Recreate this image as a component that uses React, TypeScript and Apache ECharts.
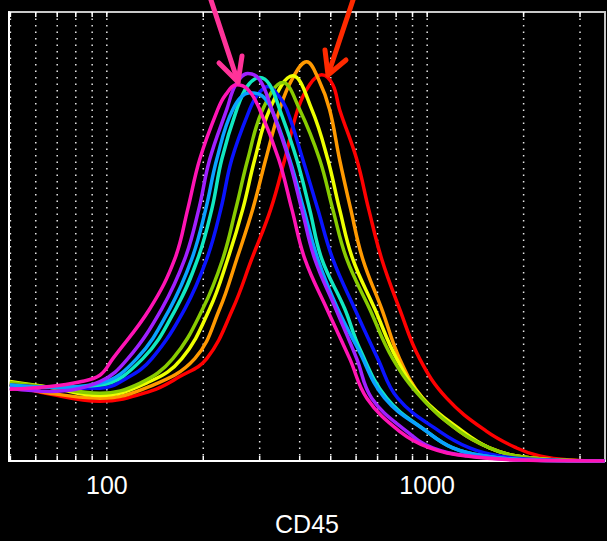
import React, { useEffect, useRef } from "react";
import * as echarts from "echarts";

// CD45 intensity histograms, one per sample: [intensity, count]
const magenta = [[49.8,16.0],[66.4,16.6],[82,17.6],[95.1,19.1],[104.4,22.8],[136.2,33.9],[163,45.0],[178.9,56.1],[195,67.2],[222,78.3],[235,81.6],[254,83.8],[276,82.7],[300,78.3],[344,67.2],[378,56.1],[415,45.0],[486,33.9],[573,22.8],[648,14.0],[820,6.6],[1018,2.9],[1328,1.1],[1944,0.2],[3580,0]];
const purple = [[49.8,16.2],[66.4,15.5],[95.1,17.7],[116.3,22.8],[148.4,33.9],[175.2,45.0],[193.7,56.1],[209.5,67.2],[236.8,78.3],[252.6,83.8],[275.4,86.3],[300,84.9],[327.2,78.3],[369.8,67.2],[405.9,56.1],[445.7,45.0],[518.3,33.9],[602.6,22.8],[671.3,14.0],[863,6.6],[1040,2.9],[1356,1.1],[2015,0.2],[3580,0]];
const skyBlue = [[49.8,16.9],[66.4,16.4],[95.1,17.3],[124,22.8],[157.2,33.9],[184.2,45.0],[203.6,56.1],[220.4,67.2],[247.3,78.3],[279.2,82.0],[304.4,81.4],[327.2,78.3],[372.1,67.2],[411.8,56.1],[455.4,45.0],[525.6,33.9],[607,25.1],[737,14.0],[996,6.6],[1202,2.9],[1511,1.1],[2089,0.2],[3580,0]];
const aqua = [[49.8,16.9],[66.4,16.4],[95.1,16.9],[129.5,22.8],[164.2,33.9],[192.2,45.0],[212.7,56.1],[228.5,67.2],[254.5,78.3],[275.4,83.6],[300,85.4],[322.3,83.8],[346.3,78.3],[391.5,67.2],[429.5,56.1],[468.7,45.0],[552.8,33.9],[615,25.1],[747.7,14.0],[996,6.6],[1202,2.9],[1511,1.1],[2089,0.2],[3580,0]];
const blue = [[49.8,16.9],[66.4,16.4],[95.1,16.2],[116.3,18.6],[138.2,22.8],[175.2,33.9],[205.1,45.0],[226.9,56.1],[245.5,67.2],[279.2,78.3],[295.8,81.6],[318,83.4],[341.6,81.6],[364.4,78.3],[408.8,67.2],[455.4,56.1],[507.3,45.0],[594,33.9],[700.8,22.8],[809,14.0],[1093,6.6],[1356,2.9],[1683,1.1],[2411,0.2],[3580,0]];
const yellowGreen = [[49.8,17.5],[66.4,16.4],[95.1,15.1],[126.7,17.3],[160.7,22.8],[199.3,33.9],[230.1,45.0],[252.6,56.1],[275.4,67.2],[306.6,78.3],[354.1,84.3],[399.8,78.3],[461.4,67.2],[507.3,56.1],[560.8,45.0],[661,33.9],[780.5,22.8],[961,14.0],[1262,6.6],[1566,2.9],[1902,1.1],[2591,0.2],[3580,0]];
const yellow = [[49.8,17.7],[66.4,16.4],[95.1,14.6],[136.2,17.7],[171.4,22.8],[209.5,33.9],[238.5,45.0],[265.7,56.1],[289.6,67.2],[322.3,78.3],[380.4,85.8],[436.2,78.3],[489.3,67.2],[532.7,56.1],[585.5,45.0],[686,33.9],[803,22.8],[968,14.0],[1291,6.6],[1566,2.9],[1902,1.1],[2591,0.2],[3580,0]];
const orange = [[49.8,17.1],[66.4,15.1],[95.1,14.0],[136.2,16.6],[188.2,22.8],[225.1,33.9],[254.5,45.0],[285.5,56.1],[313.4,67.2],[346.3,78.3],[377.8,84.9],[420.7,88.9],[458.6,84.9],[495.9,78.3],[532.7,67.2],[577.2,56.1],[629.2,45.0],[721.1,33.9],[820,22.8],[968,14.0],[1262,6.6],[1566,2.9],[1902,1.1],[2591,0.2],[3580,0]];
const red = [[49.8,17.1],[66.4,14.9],[95.1,13.3],[136.2,15.5],[168.9,18.8],[205.1,22.8],[247.3,33.9],[283.4,45.0],[324.9,56.1],[359.2,67.2],[394.4,78.3],[429.5,83.8],[468.7,86.0],[507.3,83.8],[532.7,78.3],[602.6,67.2],[656.7,56.1],[721.1,45.0],[820,33.9],[947,22.8],[1150,14.0],[1533,6.6],[1902,2.9],[2244,1.1],[2784,0.2],[3580,0]];

const seriesNames = ["red", "orange", "yellow", "yellowGreen", "blue", "aqua", "skyBlue", "purple", "magenta"];
const seriesData = [red, orange, yellow, yellowGreen, blue, aqua, skyBlue, purple, magenta];
const seriesColors = ["#ff0000", "#ff9900", "#eeff00", "#88cc00", "#0a14ff", "#10e8c0", "#0aa0ff", "#a020ff", "#ff14b4"];

// log-scale grid positions (dotted verticals + frame ticks)
const gridValues = [50, 60, 70, 80, 90, 100, 200, 300, 400, 500, 600, 700, 800, 900, 1000, 2000, 3000];

const X_MIN = 49.5;
const X_MAX = 3590;
const Y_MAX = 100;

export default function App() {
  const ref = useRef<HTMLDivElement>(null);

  useEffect(() => {
    document.body.style.margin = "0";
    document.body.style.background = "#000";
    const chart = echarts.init(ref.current!, null, { renderer: "svg" });
    const font = "'Liberation Sans', Arial, sans-serif";

    const lines = seriesData.map((d, i) => ({
      type: "line",
      name: seriesNames[i],
      data: d,
      showSymbol: false,
      smooth: 0.4,
      lineStyle: { color: seriesColors[i], width: 3.5 },
      itemStyle: { color: seriesColors[i] },
      z: 3,
    }));

    chart.setOption({
      animation: false,
      backgroundColor: "#000",
      grid: {
        left: 9,
        right: 2,
        top: 12,
        bottom: 78,
        show: true,
        borderColor: "#c8c8c8",
        borderWidth: 2,
      },
      xAxis: {
        type: "log",
        logBase: 10,
        min: X_MIN,
        max: X_MAX,
        name: "CD45",
        nameLocation: "middle",
        nameGap: 50,
        nameTextStyle: { color: "#fff", fontSize: 25, fontFamily: font },
        axisLine: { show: true, lineStyle: { color: "#fff", width: 2 } },
        axisTick: { show: false },
        splitLine: { show: false },
        axisLabel: {
          color: "#fff",
          fontSize: 25,
          fontFamily: font,
          margin: 11,
          showMinLabel: false,
          showMaxLabel: false,
          formatter: (v: number) => {
            const l = Math.log10(v);
            return Math.abs(l - Math.round(l)) < 1e-6 ? String(Math.round(v)) : "";
          },
        },
      },
      yAxis: {
        type: "value",
        min: 0,
        max: Y_MAX,
        axisLine: { show: true, lineStyle: { color: "#fff", width: 2 } },
        axisTick: { show: false },
        axisLabel: { show: false },
        splitLine: { show: false },
      },
      graphic: [
        {
          type: "polyline",
          z: 10,
          shape: { points: [[209, -6], [238, 82]] },
          style: { stroke: "#ff3399", lineWidth: 5, lineCap: "round", fill: null },
        },
        {
          type: "polyline",
          z: 10,
          shape: { points: [[219, 63], [238, 82], [242, 56]] },
          style: { stroke: "#ff3399", lineWidth: 5, lineCap: "round", lineJoin: "round", fill: null },
        },
        {
          type: "polyline",
          z: 10,
          shape: { points: [[355, -6], [328, 75]] },
          style: { stroke: "#ff2a00", lineWidth: 5, lineCap: "round", fill: null },
        },
        {
          type: "polyline",
          z: 10,
          shape: { points: [[325, 50], [328, 75], [346, 60]] },
          style: { stroke: "#ff2a00", lineWidth: 5, lineCap: "round", lineJoin: "round", fill: null },
        },
      ],
      series: [
        {
          type: "custom",
          silent: true,
          z: 1,
          data: gridValues.map((v) => [v, 0]),
          encode: { x: 0, y: 1 },
          renderItem: (_params: any, api: any) => {
            const v = api.value(0);
            const top = api.coord([v, Y_MAX]);
            const bot = api.coord([v, 0]);
            return {
              type: "group",
              children: [
                {
                  type: "line",
                  shape: { x1: top[0], y1: top[1], x2: bot[0], y2: bot[1] },
                  style: { stroke: "#e6e6e6", lineWidth: 1.5, lineDash: [1.5, 5] },
                },
                {
                  type: "line",
                  shape: { x1: top[0], y1: top[1], x2: top[0], y2: top[1] + 5 },
                  style: { stroke: "#ffffff", lineWidth: 1.5 },
                },
                {
                  type: "line",
                  shape: { x1: bot[0], y1: bot[1], x2: bot[0], y2: bot[1] - 5 },
                  style: { stroke: "#ffffff", lineWidth: 1.5 },
                },
              ],
            };
          },
        },
        ...lines,
      ],
    });

    return () => chart.dispose();
  }, []);

  return (
    <div
      ref={ref}
      style={{ position: "fixed", left: 0, top: 0, width: 607, height: 541, background: "#000" }}
    />
  );
}
